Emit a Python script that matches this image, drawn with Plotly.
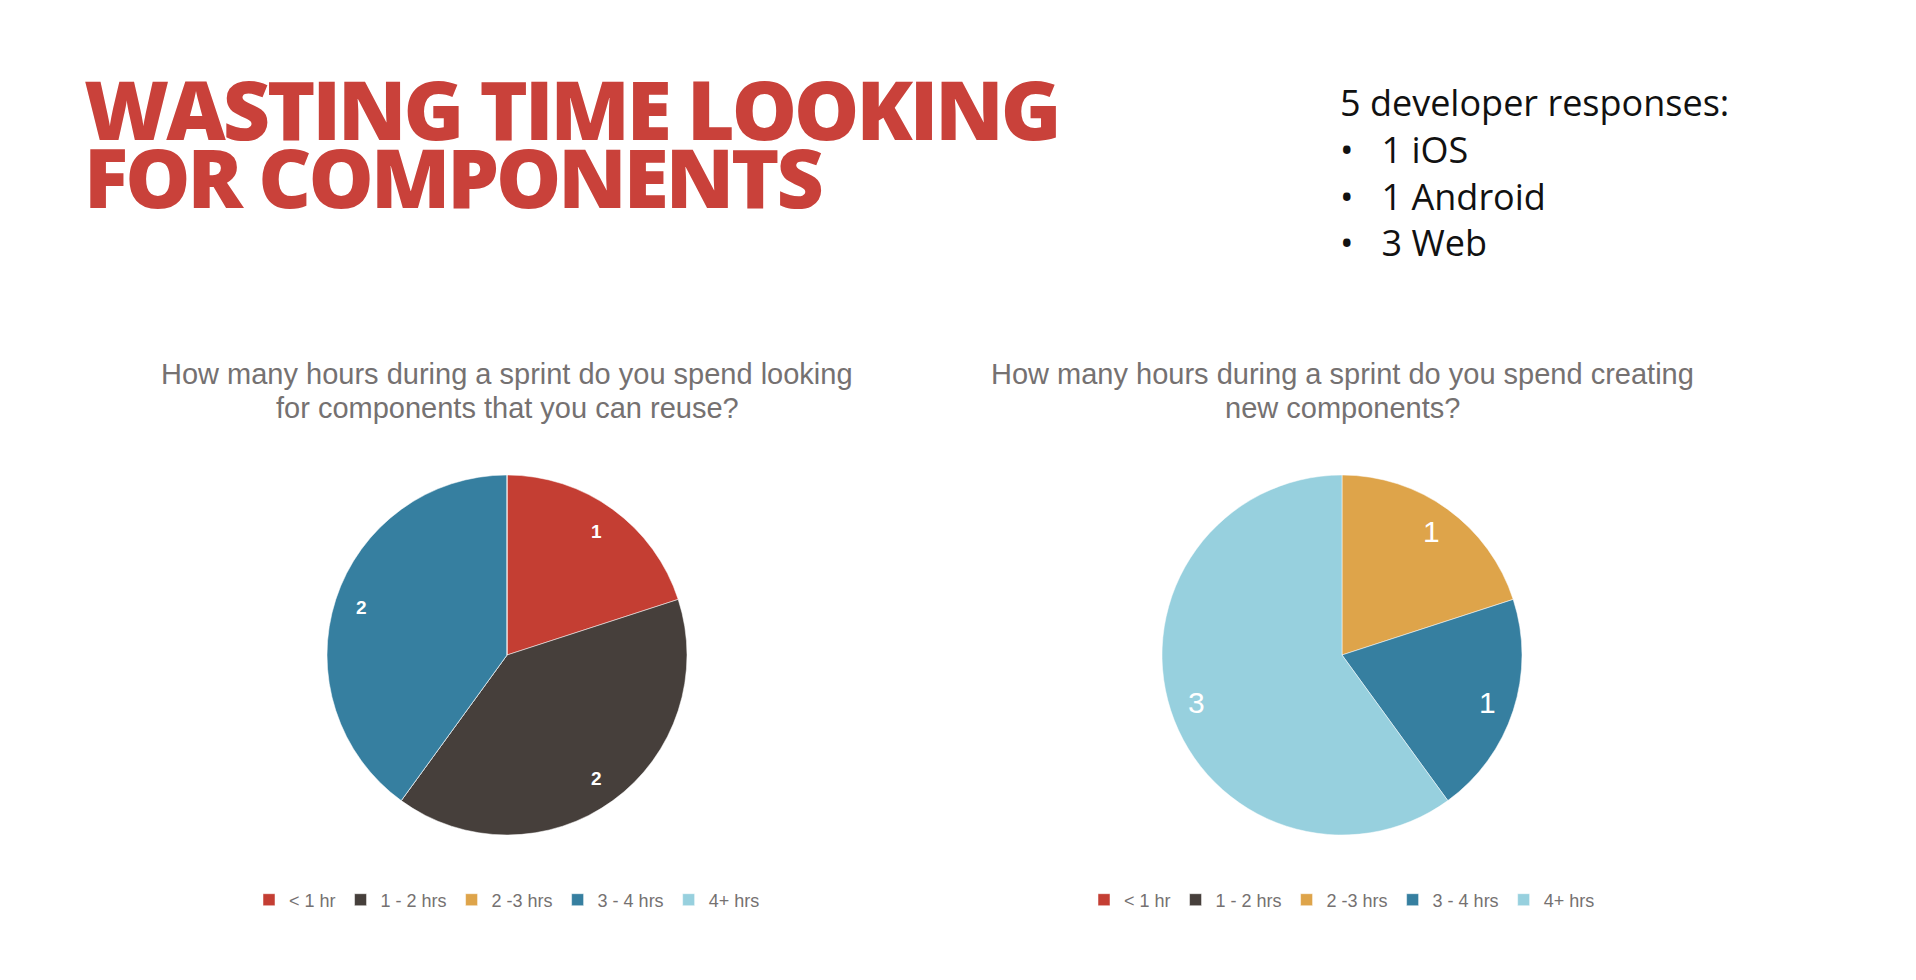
import numpy as np
import plotly.graph_objects as go

# categories shared by both pies
hour_bins = ["< 1 hr", "1 - 2 hrs", "2 -3 hrs", "3 - 4 hrs", "4+ hrs"]
bin_colors = ["#C43E33", "#463F3B", "#DEA44A", "#367FA0", "#97D0DE"]

# responses per bin
looking_counts = [1, 2, 0, 2, 0]
creating_counts = [0, 0, 1, 1, 3]

looking_title = ["How many hours during a sprint do you spend looking",
                 "for components that you can reuse?"]
creating_title = ["How many hours during a sprint do you spend creating",
                  "new components?"]

headline = ["WASTING TIME LOOKING", "FOR COMPONENTS"]
respondents_header = "5 developer responses:"
respondents = ["1 iOS", "1 Android", "3 Web"]

W, H = 1916, 980
GRAY = "#757171"
R = 180  # pie radius, px
PIES = [  # (counts, centre x px, centre y px, label font, legend)
    (looking_counts, 499, 647, dict(family="Liberation Sans", size=19, color="white", weight="bold"), "legend"),
    (creating_counts, 1334, 647, dict(family="Liberation Sans", size=30, color="white"), "legend2"),
]

fig = go.Figure()
annotations = []

for k, (counts, cx, cy, lab_font, leg) in enumerate(PIES):
    # second pie needs distinct label keys so it gets its own legend entries
    labels = [b + "\u200b" * k for b in hour_bins]
    fig.add_trace(go.Pie(
        labels=labels, values=counts,
        marker=dict(colors=bin_colors, line=dict(color="white", width=0.5)),
        sort=False, direction="clockwise", rotation=0,
        textinfo="none",
        domain=dict(x=[(cx - R) / W, (cx + R) / W], y=[1 - (cy + R) / H, 1 - (cy - R) / H]),
        legend=leg, hoverinfo="label+value",
    ))
    # value labels near the rim, in the middle of each slice
    vals = np.array(counts, dtype=float)
    ends = np.cumsum(vals) / vals.sum() * 2 * np.pi
    mids = ends - vals / vals.sum() * np.pi
    for v, a in zip(counts, mids):
        if v == 0:
            continue
        annotations.append(dict(
            text=str(v), showarrow=False, xanchor="center", yanchor="middle",
            x=(cx + 0.85 * R * np.sin(a)) / W, y=1 - (cy - 0.85 * R * np.cos(a)) / H,
            font=lab_font,
        ))

legend_style = dict(
    orientation="h", xanchor="center", yanchor="middle", y=1 - 892 / H,
    font=dict(family="Liberation Sans", size=18, color=GRAY),
    itemwidth=30, tracegroupgap=0, bgcolor="rgba(0,0,0,0)",
)

# headline: one text; small base size keeps the tight line spacing, span sets glyph size
annotations.append(dict(
    text="<br>".join('<span style="font-size:82px;letter-spacing:-3px">' + ln + "</span>"
                     for ln in headline),
    x=74 / W, y=1 - 134 / H, xanchor="left", yanchor="middle", align="left",
    showarrow=False, font=dict(family="Open Sans", size=52, color="#C9413A", weight=800)))

# respondents block: header + bulleted list in one text
side_lines = [respondents_header] + ["•&nbsp;&nbsp;&nbsp;" + r for r in respondents]
annotations.append(dict(
    text="<br>".join(side_lines),
    x=1330 / W, y=1 - 164.6 / H, xanchor="left", yanchor="middle", align="left",
    showarrow=False, font=dict(family="Open Sans", size=36, color="#111111")))

for (counts, cx, cy, _, _), ttl in zip(PIES, [looking_title, creating_title]):
    for j, line in enumerate(ttl):
        annotations.append(dict(text=line, x=cx / W, y=1 - (365.5 + 34.5 * j) / H,
                                xanchor="center", yanchor="middle", showarrow=False,
                                font=dict(family="Liberation Sans", size=29, color=GRAY)))

fig.update_layout(
    width=W, height=H,
    margin=dict(l=0, r=0, t=0, b=0),
    paper_bgcolor="white", plot_bgcolor="white",
    legend=dict(x=PIES[0][1] / W, **legend_style),
    legend2=dict(x=PIES[1][1] / W, **legend_style),
    annotations=annotations,
)

fig.write_html("out.html")
